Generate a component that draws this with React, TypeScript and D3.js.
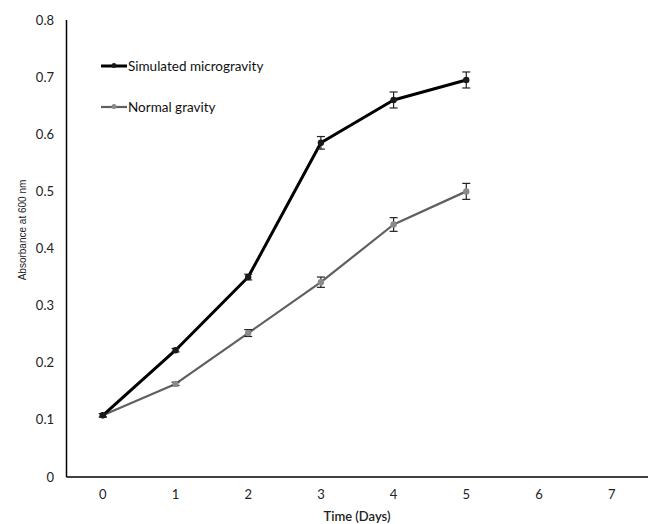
import React from "react";
import * as d3 from "d3";

const days = [0, 1, 2, 3, 4, 5];
const xTicks = [0, 1, 2, 3, 4, 5, 6, 7];
const yTicks = [0, 0.1, 0.2, 0.3, 0.4, 0.5, 0.6, 0.7, 0.8];
const microValues = [0.108, 0.222, 0.35, 0.585, 0.66, 0.695];
const microErrors = [0.003, 0.003, 0.005, 0.011, 0.014, 0.014];
const normalValues = [0.108, 0.163, 0.252, 0.341, 0.442, 0.5];
const normalErrors = [0.003, 0.003, 0.006, 0.009, 0.012, 0.014];
const seriesNames = ["Simulated microgravity", "Normal gravity"];

const W = 649;
const H = 524;
const FONT = "Lato, 'Open Sans', sans-serif";

export default function App() {
  const x = d3.scaleLinear().domain([-0.5, 7.5]).range([66.5, 648]);
  const y = d3.scaleLinear().domain([0, 0.8]).range([477, 20]);
  const line = d3
    .line<number>()
    .x((_, i) => x(days[i]))
    .y((d) => y(d));

  const series = [
    { name: seriesNames[0], values: microValues, errors: microErrors, stroke: "#000", marker: "#1a1a1a", width: 3 },
    { name: seriesNames[1], values: normalValues, errors: normalErrors, stroke: "#5f5f5f", marker: "#8a8a8a", width: 2.2 },
  ];

  return (
    <svg width={W} height={H} style={{ position: "absolute", left: 0, top: 0, background: "#fff" }}>
      <rect width={W} height={H} fill="#fff" />
      {/* axes */}
      <line x1={x(-0.5)} x2={x(-0.5)} y1={y(0.8)} y2={y(0)} stroke="#000" strokeWidth={1.5} />
      <line x1={x(-0.5)} x2={x(7.5)} y1={y(0)} y2={y(0)} stroke="#000" strokeWidth={1.5} />
      {yTicks.map((t) => (
        <text key={t} x={54} y={y(t)} dy="0.35em" textAnchor="end" fontFamily={FONT} fontSize={13} fill="#222">
          {t === 0 ? "0" : t.toFixed(1)}
        </text>
      ))}
      {xTicks.map((t) => (
        <text key={t} x={x(t)} y={499} textAnchor="middle" fontFamily={FONT} fontSize={13} fill="#222">
          {t}
        </text>
      ))}
      <text x={357} y={521} textAnchor="middle" fontFamily={FONT} fontSize={13} fontWeight={600} fill="#222">
        Time (Days)
      </text>
      <text
        transform={`translate(26,230) rotate(-90)`}
        textAnchor="middle"
        fontFamily="'Liberation Sans', Arial, sans-serif"
        fontSize={10}
        fill="#222"
      >
        Absorbance at 600 nm
      </text>
      {/* series (normal first so micro on top) */}
      {[series[1], series[0]].map((s) => (
        <g key={s.name}>
          <path d={line(s.values) || ""} fill="none" stroke={s.stroke} strokeWidth={s.width} strokeLinejoin="round" />
          {s.values.map((v, i) => {
            const cx = x(days[i]);
            const e = s.errors[i];
            return (
              <g key={i}>
                <line x1={cx} x2={cx} y1={y(v + e)} y2={y(v - e)} stroke="#222" strokeWidth={1.2} />
                <line x1={cx - 4} x2={cx + 4} y1={y(v + e)} y2={y(v + e)} stroke="#222" strokeWidth={1.2} />
                <line x1={cx - 4} x2={cx + 4} y1={y(v - e)} y2={y(v - e)} stroke="#222" strokeWidth={1.2} />
                <circle cx={cx} cy={y(v)} r={3.2} fill={s.marker} />
              </g>
            );
          })}
        </g>
      ))}
      {/* legend */}
      {series.map((s, i) => {
        const ly = 66 + i * 41;
        return (
          <g key={s.name}>
            <line x1={101} x2={127} y1={ly} y2={ly} stroke={s.stroke} strokeWidth={s.width} />
            <circle cx={114} cy={ly - 0.5} r={2.5} fill={s.marker} />
            <text x={128} y={ly} dy="0.35em" fontFamily={FONT} fontSize={13.5} fill="#111">
              {s.name}
            </text>
          </g>
        );
      })}
    </svg>
  );
}
